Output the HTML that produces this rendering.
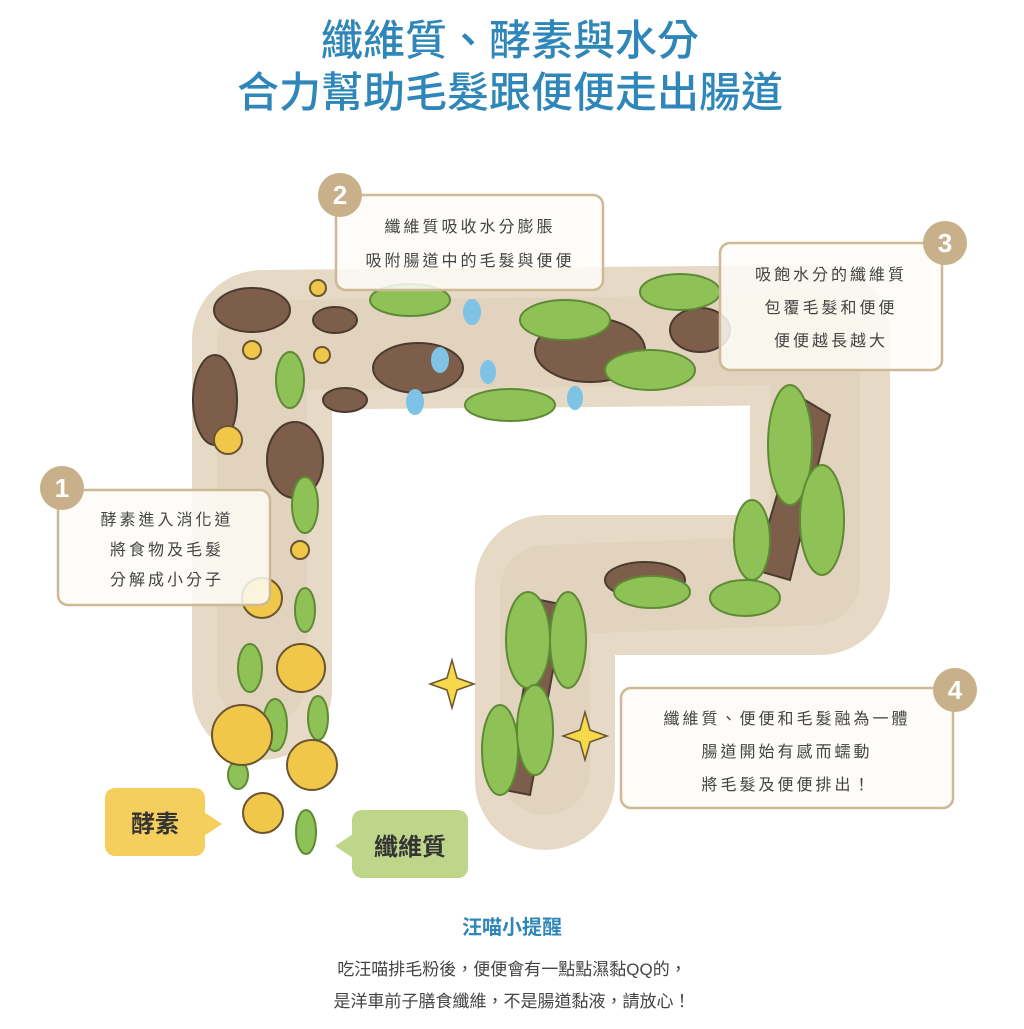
<!DOCTYPE html>
<html><head><meta charset="utf-8"><style>
html,body{margin:0;padding:0;background:#fff;}
body{width:1024px;height:1024px;overflow:hidden;font-family:"Liberation Sans","Noto Sans CJK TC",sans-serif;}
</style></head><body>
<svg width="1024" height="1024" viewBox="0 0 1024 1024" xmlns="http://www.w3.org/2000/svg" font-family="Liberation Sans, Noto Sans CJK TC, sans-serif">
<rect width="1024" height="1024" fill="#fff"/>
<text x="510" y="55" text-anchor="middle" font-size="42" font-weight="500" fill="#2f86b8">纖維質、酵素與水分</text>
<text x="510" y="107" text-anchor="middle" font-size="42" font-weight="500" fill="#2f86b8">合力幫助毛髮跟便便走出腸道</text>

<g fill="none" stroke="#e6dac7" stroke-linejoin="round" stroke-linecap="round">
<path d="M262 690 L262 340 L820 335 L820 585 L545 585 L545 780" stroke-width="140"/>
</g>
<g fill="none" stroke="#ddcfb8" stroke-linejoin="round" stroke-linecap="round" opacity="0.6">
<path d="M262 680 L262 345 L815 340 L815 580 L545 590 L545 770" stroke-width="90"/>
</g>

<g fill="#7d5e4b" stroke="#4a3a30" stroke-width="2">
<ellipse cx="252" cy="310" rx="38" ry="22"/>
<ellipse cx="335" cy="320" rx="22" ry="13"/>
<ellipse cx="215" cy="400" rx="22" ry="45"/>
<ellipse cx="295" cy="460" rx="28" ry="38"/>
<ellipse cx="345" cy="400" rx="22" ry="12"/>
<ellipse cx="418" cy="368" rx="45" ry="25"/>
<ellipse cx="590" cy="350" rx="55" ry="32"/>
<ellipse cx="700" cy="330" rx="30" ry="22"/>
<path d="M805 400 L830 415 L790 580 L755 570 Z"/>
<ellipse cx="645" cy="580" rx="40" ry="18"/>
<path d="M540 600 L565 605 L530 795 L505 790 Z"/>
</g>
<g fill="#8fc256" stroke="#5f8a35" stroke-width="2">
<ellipse cx="410" cy="300" rx="40" ry="16"/>
<ellipse cx="565" cy="320" rx="45" ry="20"/>
<ellipse cx="680" cy="292" rx="40" ry="18"/>
<ellipse cx="650" cy="370" rx="45" ry="20"/>
<ellipse cx="510" cy="405" rx="45" ry="16"/>
<ellipse cx="290" cy="380" rx="14" ry="28"/>
<ellipse cx="305" cy="505" rx="13" ry="28"/>
<ellipse cx="305" cy="610" rx="10" ry="22"/>
<ellipse cx="250" cy="668" rx="12" ry="24"/>
<ellipse cx="318" cy="718" rx="10" ry="22"/>
<ellipse cx="275" cy="725" rx="12" ry="26"/>
<ellipse cx="238" cy="775" rx="10" ry="14"/>
<ellipse cx="306" cy="832" rx="10" ry="22"/>
<ellipse cx="790" cy="445" rx="22" ry="60"/>
<ellipse cx="822" cy="520" rx="22" ry="55"/>
<ellipse cx="752" cy="540" rx="18" ry="40"/>
<ellipse cx="745" cy="598" rx="35" ry="18"/>
<ellipse cx="652" cy="592" rx="38" ry="16"/>
<ellipse cx="528" cy="640" rx="22" ry="48"/>
<ellipse cx="568" cy="640" rx="18" ry="48"/>
<ellipse cx="500" cy="750" rx="18" ry="45"/>
<ellipse cx="535" cy="730" rx="18" ry="45"/>
</g>
<g fill="#f1c74a" stroke="#6a5530" stroke-width="2">
<circle cx="318" cy="288" r="8"/><circle cx="252" cy="350" r="9"/><circle cx="322" cy="355" r="8"/>
<circle cx="228" cy="440" r="14"/><circle cx="300" cy="550" r="9"/><circle cx="262" cy="598" r="20"/>
<circle cx="301" cy="668" r="24"/><circle cx="242" cy="735" r="30"/><circle cx="312" cy="765" r="25"/>
<circle cx="263" cy="813" r="20"/>
</g>
<g fill="#7ec3e6">
<ellipse cx="472" cy="312" rx="9" ry="13"/><ellipse cx="440" cy="360" rx="9" ry="13"/>
<ellipse cx="488" cy="372" rx="8" ry="12"/><ellipse cx="415" cy="402" rx="9" ry="13"/>
<ellipse cx="575" cy="398" rx="8" ry="12"/>
</g>
<g fill="#f5d94a" stroke="#6a5530" stroke-width="1.5">
<path d="M452 660 L457 678 L474 684 L457 690 L452 708 L447 690 L430 684 L447 678 Z"/>
<path d="M585 712 L590 730 L607 736 L590 742 L585 760 L580 742 L563 736 L580 730 Z"/>
</g>

<g fill="#fdfbf7" fill-opacity="0.85" stroke="#cdb994" stroke-width="2.5">
<rect x="58" y="490" width="212" height="115" rx="10"/>
<rect x="336" y="195" width="267" height="95" rx="10"/>
<rect x="720" y="243" width="222" height="127" rx="10"/>
<rect x="621" y="688" width="332" height="120" rx="10"/>
</g>
<g fill="#c7b08a">
<circle cx="62" cy="488" r="22"/><circle cx="340" cy="195" r="22"/>
<circle cx="945" cy="243" r="22"/><circle cx="955" cy="690" r="22"/>
</g>
<g fill="#fff" font-size="26" font-weight="bold" text-anchor="middle">
<text x="62" y="497">1</text><text x="340" y="204">2</text><text x="945" y="252">3</text><text x="955" y="699">4</text>
</g>
<g fill="#444" font-size="16" text-anchor="middle" letter-spacing="3">
<text x="167" y="525">酵素進入消化道</text>
<text x="167" y="555">將食物及毛髮</text>
<text x="167" y="585">分解成小分子</text>
<text x="470" y="232">纖維質吸收水分膨脹</text>
<text x="470" y="266">吸附腸道中的毛髮與便便</text>
<text x="831" y="280">吸飽水分的纖維質</text>
<text x="831" y="313">包覆毛髮和便便</text>
<text x="831" y="346">便便越長越大</text>
<text x="787" y="724">纖維質、便便和毛髮融為一體</text>
<text x="787" y="757">腸道開始有感而蠕動</text>
<text x="787" y="790">將毛髮及便便排出！</text>
</g>

<rect x="105" y="788" width="100" height="68" rx="10" fill="#f5cf5e"/>
<path d="M204 812 L222 824 L204 836 Z" fill="#f5cf5e"/>
<text x="155" y="832" text-anchor="middle" font-size="24" font-weight="bold" fill="#333">酵素</text>
<rect x="352" y="810" width="116" height="68" rx="10" fill="#bfd68a"/>
<path d="M353 834 L335 846 L353 858 Z" fill="#bfd68a"/>
<text x="410" y="855" text-anchor="middle" font-size="24" font-weight="bold" fill="#333">纖維質</text>

<text x="512" y="934" text-anchor="middle" font-size="20" font-weight="bold" fill="#2f86b8">汪喵小提醒</text>
<text x="512" y="975" text-anchor="middle" font-size="17" fill="#444">吃汪喵排毛粉後，便便會有一點點濕黏QQ的，</text>
<text x="512" y="1007" text-anchor="middle" font-size="17" fill="#444">是洋車前子膳食纖維，不是腸道黏液，請放心！</text>
</svg>
</body></html>
